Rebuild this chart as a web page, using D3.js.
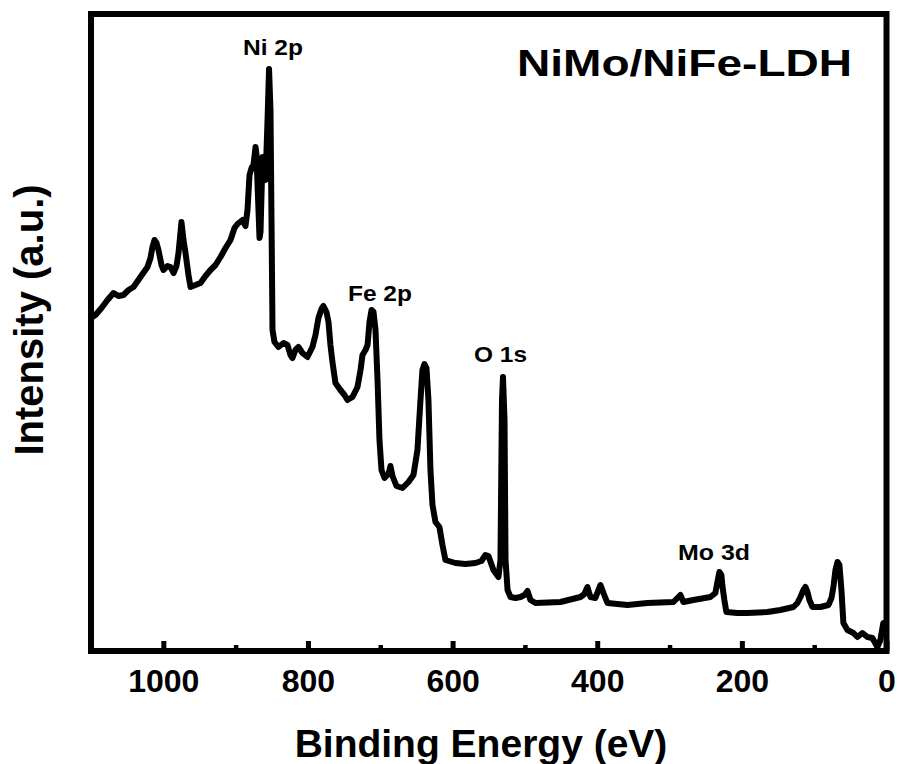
<!DOCTYPE html>
<html>
<head>
<meta charset="utf-8">
<script src="https://cdn.jsdelivr.net/npm/d3@7"></script>
<style>
  body { margin: 0; background: #fff; }
  text { font-family: "Liberation Sans", Arial, Helvetica, sans-serif; font-weight: bold; fill: #000; }
</style>
</head>
<body>
<svg id="chart" width="898" height="764"></svg>
<script>
// XPS survey spectrum of NiMo/NiFe-LDH (binding energy in eV, intensity in arbitrary units)
const energy = [
  1100, 1093.8, 1085.5, 1077.2, 1068.9, 1062.0, 1055.1, 1048.1, 1041.2, 1031.6,
  1021.9, 1017.7, 1015.0, 1012.2, 1009.4, 1006.7, 1002.5, 999.7, 994.2, 990.1,
  985.9, 981.8, 979.0, 976.2, 974.9, 972.1, 969.3, 965.2, 962.4, 955.5,
  948.6, 941.7, 934.8, 927.8, 920.9, 914.0, 907.1, 901.6, 897.4, 890.5,
  886.4, 883.6, 880.8, 878.0, 875.3, 872.5, 871.1, 869.7, 867.0, 865.6,
  862.8, 861.5, 858.7, 855.9, 853.8, 851.8, 850.4, 849.0, 846.3, 840.8,
  833.8, 828.3, 824.2, 821.4, 817.3, 813.1, 807.6, 800.7, 793.8, 789.6,
  785.5, 781.3, 778.6, 774.4, 771.6, 768.9, 766.1, 762.0, 755.1, 749.5,
  745.3, 738.4, 731.5, 727.3, 724.6, 720.4, 717.6, 714.9, 712.1, 709.3,
  706.6, 703.8, 701.1, 698.3, 694.1, 688.6, 685.9, 683.1, 677.6, 669.3,
  661.0, 654.1, 648.6, 644.4, 641.7, 638.9, 636.1, 633.4, 630.6, 627.8,
  623.7, 618.2, 614.0, 609.9, 596.1, 582.2, 568.4, 560.1, 554.6, 550.4,
  543.5, 536.6, 533.8, 531.7, 530.3, 528.2, 526.8, 524.0, 519.9, 513.0,
  506.1, 500.6, 496.4, 492.3, 485.4, 450.8, 423.2, 417.7, 413.5, 409.4,
  402.5, 398.3, 395.5, 391.4, 385.9, 358.2, 330.6, 294.6, 289.1, 285.0,
  280.8, 267.0, 243.5, 236.6, 233.8, 231.1, 228.3, 226.9, 224.2, 221.4,
  206.2, 192.4, 164.7, 146.7, 128.7, 123.2, 119.0, 114.9, 112.1, 109.3,
  106.6, 102.4, 91.3, 80.3, 76.1, 73.4, 70.6, 67.8, 65.1, 62.3,
  59.6, 54.0, 45.7, 40.2, 33.3, 26.4, 19.5, 12.6, 8.5, 4.4
];
const intensity = [
  333, 336, 343, 351, 358, 355, 356, 361, 364, 374,
  384, 393, 404, 411, 408, 401, 386, 381, 385, 384,
  378, 385, 398, 419, 429, 411, 398, 376, 364, 366,
  368, 375, 381, 386, 394, 403, 411, 423, 427, 431,
  425, 441, 476, 483, 486, 504, 496, 466, 413, 419,
  494, 486, 471, 531, 582, 541, 431, 321, 309, 304,
  308, 306, 296, 293, 301, 304, 298, 294, 304, 316,
  333, 342, 345, 339, 329, 306, 289, 268, 261, 256,
  251, 254, 264, 281, 296, 301, 306, 329, 341, 339,
  321, 271, 211, 181, 173, 177, 185, 175, 165, 163,
  169, 176, 201, 251, 281, 287, 283, 251, 181, 146,
  129, 124, 106, 91, 88, 87, 88, 90, 96, 95,
  81, 74, 91, 251, 274, 231, 91, 61, 54, 53,
  54, 56, 60, 51, 48, 49, 54, 57, 64, 54,
  53, 61, 66, 58, 48, 46, 48, 49, 53, 56,
  49, 51, 54, 58, 69, 79, 76, 65, 51, 39,
  38, 38, 39, 41, 44, 48, 54, 61, 64, 59,
  51, 44, 44, 46, 53, 64, 81, 89, 86, 61,
  28, 21, 18, 14, 18, 14, 13, 4, 11, 28
];

const majorTicks = [1000, 800, 600, 400, 200, 0];
const minorTicks = [1100, 900, 700, 500, 300, 100];

const peakLabels = ["Ni 2p", "Fe 2p", "O 1s", "Mo 3d"];
const peakLabelEnergy = [848.3, 700.4, 533.7, 238.5];
const peakLabelIntensity = [596, 350, 289, 91];
const peakLabelWidth = [60, 64, 53, 72];

const sampleName = "NiMo/NiFe-LDH";
const xTitle = "Binding Energy (eV)";
const yTitle = "Intensity (a.u.)";

const svg = d3.select("#chart");
const frame = { left: 91, top: 14, right: 886.5, bottom: 651 };

const x = d3.scaleLinear().domain([1100, 0]).range([frame.left, frame.right]);
const y = d3.scaleLinear().domain([0, 637]).range([frame.bottom, frame.top]);

const points = energy.map((e, i) => [e, intensity[i]]);

// spectrum trace
svg.append("defs").append("clipPath").attr("id", "plot-clip")
  .append("rect")
  .attr("x", frame.left).attr("y", frame.top - 10)
  .attr("width", frame.right - frame.left).attr("height", frame.bottom - frame.top + 10);

svg.append("path")
  .datum(points)
  .attr("clip-path", "url(#plot-clip)")
  .attr("fill", "none")
  .attr("stroke", "#000")
  .attr("stroke-width", 6)
  .attr("stroke-linejoin", "round")
  .attr("stroke-linecap", "round")
  .attr("d", d3.line().x(d => x(d[0])).y(d => y(d[1])));

// minor ticks (inward, unlabeled)
const minorAxis = svg.append("g")
  .attr("transform", `translate(0,${frame.bottom})`)
  .call(d3.axisBottom(x).tickValues(minorTicks).tickSize(-6).tickSizeOuter(0).tickFormat(""));
minorAxis.select(".domain").remove();
minorAxis.selectAll(".tick line").attr("stroke", "#000").attr("stroke-width", 4.5);

// major ticks with labels
const majorAxis = svg.append("g")
  .attr("transform", `translate(0,${frame.bottom})`)
  .call(d3.axisBottom(x).tickValues(majorTicks).tickSize(-10).tickSizeOuter(0)
    .tickPadding(18.5).tickFormat(d3.format("d")));
majorAxis.select(".domain").remove();
majorAxis.selectAll(".tick line").attr("stroke", "#000").attr("stroke-width", 5);
majorAxis.selectAll(".tick text")
  .attr("font-size", 32)
  .attr("font-family", "'Liberation Sans', Arial, sans-serif")
  .attr("font-weight", "bold")
  .attr("fill", "#000");

// plot frame
svg.append("rect")
  .attr("x", frame.left).attr("y", frame.top)
  .attr("width", frame.right - frame.left).attr("height", frame.bottom - frame.top)
  .attr("fill", "none").attr("stroke", "#000").attr("stroke-width", 6);

// peak assignments
svg.selectAll("text.peak")
  .data(peakLabels)
  .join("text")
  .attr("class", "peak")
  .attr("x", (d, i) => x(peakLabelEnergy[i]))
  .attr("y", (d, i) => y(peakLabelIntensity[i]))
  .attr("text-anchor", "middle")
  .attr("font-size", 22)
  .attr("textLength", (d, i) => peakLabelWidth[i])
  .attr("lengthAdjust", "spacingAndGlyphs")
  .text(d => d);

// sample name
svg.append("text")
  .attr("x", 517).attr("y", 76)
  .attr("font-size", 37)
  .attr("textLength", 335)
  .attr("lengthAdjust", "spacingAndGlyphs")
  .text(sampleName);

// axis titles
svg.append("text")
  .attr("x", 481).attr("y", 757)
  .attr("text-anchor", "middle")
  .attr("font-size", 39)
  .text(xTitle);

svg.append("text")
  .attr("transform", "translate(43,320) rotate(-90)")
  .attr("text-anchor", "middle")
  .attr("font-size", 40)
  .text(yTitle);
</script>
</body>
</html>
